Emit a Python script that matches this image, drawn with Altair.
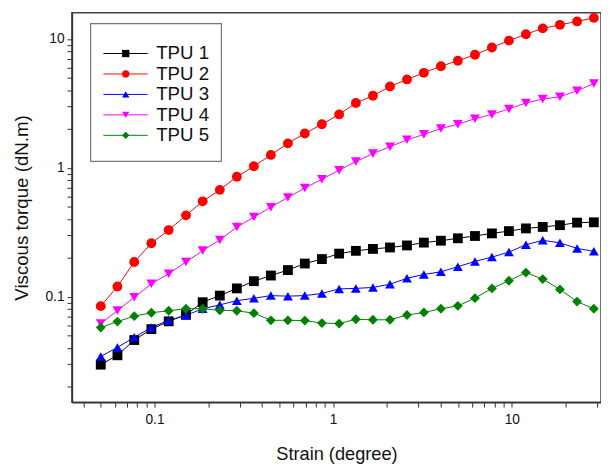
import altair as alt
import pandas as pd

strain = [0.05, 0.062, 0.077, 0.096, 0.12, 0.15, 0.186, 0.232, 0.289, 0.36,
          0.448, 0.558, 0.694, 0.865, 1.08, 1.34, 1.67, 2.08, 2.59, 3.22,
          4.01, 4.99, 6.22, 7.74, 9.64, 12.0, 14.9, 18.6, 23.2, 28.8]

tpu1 = [0.0297, 0.0351, 0.0461, 0.056, 0.0644, 0.0725, 0.0906, 0.102, 0.116, 0.132,
        0.146, 0.161, 0.181, 0.196, 0.216, 0.227, 0.235, 0.241, 0.25, 0.263,
        0.272, 0.284, 0.296, 0.31, 0.323, 0.339, 0.348, 0.359, 0.376, 0.378]
tpu2 = [0.0845, 0.12, 0.186, 0.26, 0.329, 0.428, 0.55, 0.675, 0.853, 1.03,
        1.26, 1.55, 1.85, 2.18, 2.6, 3.19, 3.63, 4.28, 4.86, 5.47,
        6.15, 6.79, 7.55, 8.6, 9.72, 10.9, 12.1, 12.9, 13.7, 14.6]
tpu3 = [0.0344, 0.0404, 0.0484, 0.0577, 0.0656, 0.0716, 0.0806, 0.0865, 0.0932, 0.0972,
        0.102, 0.101, 0.102, 0.106, 0.115, 0.116, 0.118, 0.125, 0.139, 0.149,
        0.156, 0.171, 0.188, 0.203, 0.222, 0.253, 0.274, 0.262, 0.237, 0.225]
tpu4 = [0.062, 0.078, 0.099, 0.126, 0.151, 0.186, 0.228, 0.276, 0.347, 0.415,
        0.495, 0.59, 0.697, 0.815, 0.96, 1.12, 1.29, 1.46, 1.65, 1.82,
        2.02, 2.18, 2.41, 2.6, 2.87, 3.19, 3.42, 3.57, 3.97, 4.51]
tpu5 = [0.0577, 0.0641, 0.0706, 0.0751, 0.0778, 0.0806, 0.0806, 0.0785, 0.0778, 0.0745,
        0.0656, 0.0656, 0.0653, 0.0624, 0.0619, 0.0668, 0.0662, 0.0662, 0.0721, 0.0755,
        0.0806, 0.0849, 0.0975, 0.116, 0.133, 0.154, 0.137, 0.114, 0.0916, 0.0806]

names = ["TPU 1", "TPU 2", "TPU 3", "TPU 4", "TPU 5"]
series = [tpu1, tpu2, tpu3, tpu4, tpu5]
colors = ["#000000", "#ff0000", "#0000ff", "#ff00ff", "#008000"]
shapes = ["square", "circle", "triangle-up", "triangle-down", "diamond"]

x_ticks = [0.04, 0.05, 0.06, 0.07, 0.08, 0.09, 0.1,
           0.2, 0.3, 0.4, 0.5, 0.6, 0.7, 0.8, 0.9, 1,
           2, 3, 4, 5, 6, 7, 8, 9, 10, 20, 30]
y_ticks = [0.02, 0.03, 0.04, 0.05, 0.06, 0.07, 0.08, 0.09, 0.1,
           0.2, 0.3, 0.4, 0.5, 0.6, 0.7, 0.8, 0.9, 1,
           2, 3, 4, 5, 6, 7, 8, 9, 10]
label_expr = "datum.value == 0.1 || datum.value == 1 || datum.value == 10 ? datum.label : ''"

W, H = 538, 396

rows = []
for name, vals in zip(names, series):
    for s, v in zip(strain, vals):
        rows.append({"Strain": s, "Torque": v, "Series": name})
df = pd.DataFrame(rows)
legend_df = pd.DataFrame({"Series": names})

xs = alt.Scale(type="log", domain=[0.03448, 31.58], nice=False)
ys = alt.Scale(type="log", domain=[0.01517, 15.99], nice=False)
cs = alt.Scale(domain=names, range=colors)
ss = alt.Scale(domain=names, range=shapes)

x_axis = alt.Axis(values=x_ticks, labelExpr=label_expr, labelOverlap=False, grid=False,
                  tickSize=5, tickColor="#333", labelFontSize=14, labelPadding=6,
                  labelColor="#111", domainColor="#333", domainWidth=1.5,
                  title="Strain (degree)", titleFontSize=18.5, titleFontWeight="normal",
                  titleColor="#111", titlePadding=18)
y_axis = alt.Axis(values=y_ticks, labelExpr=label_expr, labelOverlap=False, grid=False,
                  tickSize=5, tickColor="#333", labelFontSize=14, labelPadding=3,
                  labelColor="#111", domainColor="#333", domainWidth=1.5,
                  title="Viscous torque (dN.m)", titleFontSize=19, titleFontWeight="normal",
                  titleColor="#111", titlePadding=13.5)

base = alt.Chart(df)

lines = base.mark_line(strokeWidth=1).encode(
    x=alt.X("Strain:Q", scale=xs, axis=x_axis),
    y=alt.Y("Torque:Q", scale=ys, axis=y_axis),
    color=alt.Color("Series:N", scale=cs, legend=None),
)

points = base.mark_point(filled=True, size=100, opacity=1).encode(
    x=alt.X("Strain:Q", scale=xs),
    y=alt.Y("Torque:Q", scale=ys),
    color=alt.Color("Series:N", scale=cs, legend=None),
    shape=alt.Shape("Series:N", scale=ss, legend=None),
)

main = alt.layer(lines, points)

# hand-built legend (box, line sample, marker, label) placed by a point scale
ly = alt.Y("Series:N", scale=alt.Scale(domain=names, range=[31, 135], padding=0), axis=None)

box = alt.Chart(pd.DataFrame({"k": [0]})).mark_rect(
    fill="white", stroke="#777", strokeWidth=1.2
).encode(x=alt.value(19), x2=alt.value(152), y=alt.value(11), y2=alt.value(151))

leg_lines = alt.Chart(legend_df).mark_rule(strokeWidth=1).encode(
    x=alt.value(32), x2=alt.value(77), y=ly,
    color=alt.Color("Series:N", scale=cs, legend=None),
)
leg_pts = alt.Chart(legend_df).mark_point(filled=True, size=55, opacity=1).encode(
    x=alt.value(54.7), y=ly,
    color=alt.Color("Series:N", scale=cs, legend=None),
    shape=alt.Shape("Series:N", scale=ss, legend=None),
)
leg_text = alt.Chart(legend_df).mark_text(
    align="left", baseline="middle", fontSize=19, color="#111"
).encode(x=alt.value(85.7), y=ly, text="Series:N")

legend = alt.layer(box, leg_lines, leg_pts, leg_text)

chart = alt.layer(main, legend).resolve_scale(y="independent").properties(
    width=W, height=H,
    padding={"left": 5, "top": 1, "right": 0, "bottom": 0},
).configure_view(stroke="#444", strokeWidth=1.5)

chart.save("out.html", embed_options={"renderer": "svg", "actions": False})
